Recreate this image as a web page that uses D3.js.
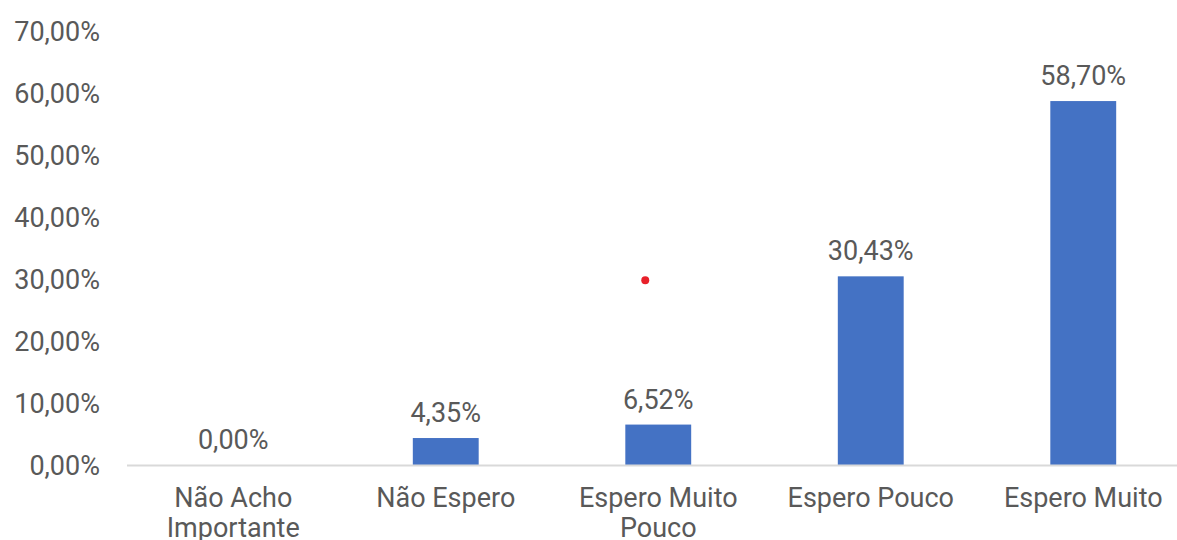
<!DOCTYPE html>
<html>
<head>
<meta charset="utf-8">
<script src="https://cdn.jsdelivr.net/npm/d3@7/dist/d3.min.js"></script>
<style>
  body { margin: 0; background: #fff; }
  text { font-family: Roboto, "Liberation Sans", Arial, sans-serif; fill: #595959; }
</style>
</head>
<body>
<div id="chart"></div>
<script>
// categories and values (percent)
var categories = ["Não Acho|Importante", "Não Espero", "Espero Muito|Pouco", "Espero Pouco", "Espero Muito"];
var values = [0.00, 4.35, 6.52, 30.43, 58.70];
var yTicks = [0, 10, 20, 30, 40, 50, 60, 70];

var width = 1177, height = 540
  , margin = { top: 31, right: 0, bottom: 75, left: 127 }
  , fontSize = "27px"
  , fmt = function(v) { return d3.format(".2f")(v).replace(".", ",") + "%"; }
;

var svg = d3.select("#chart").append("svg")
    .attr("width", width)
    .attr("height", height);

var x = d3.scaleBand()
    .domain(categories)
    .range([margin.left, margin.left + 5 * 212.5])
    .paddingInner(0.69)
    .paddingOuter(0.345);

var y = d3.scaleLinear()
    .domain([0, 70])
    .range([height - margin.bottom, margin.top]);

// y axis labels (no line, no ticks)
svg.append("g")
  .selectAll("text")
  .data(yTicks)
  .enter().append("text")
    .attr("x", 100)
    .attr("y", function(d) { return y(d); })
    .attr("dy", "0.36em")
    .attr("text-anchor", "end")
    .style("font-size", fontSize)
    .text(fmt);

// bars
svg.append("g")
  .selectAll("rect")
  .data(values)
  .enter().append("rect")
    .attr("x", function(d, i) { return x(categories[i]); })
    .attr("y", function(d) { return y(d); })
    .attr("width", x.bandwidth())
    .attr("height", function(d) { return y(0) - y(d); })
    .attr("fill", "#4472C4");

// baseline
svg.append("line")
    .attr("x1", margin.left)
    .attr("x2", width)
    .attr("y1", y(0) + 0.5)
    .attr("y2", y(0) + 0.5)
    .attr("stroke", "#D9D9D9")
    .attr("stroke-width", 2);

// data labels
svg.append("g")
  .selectAll("text")
  .data(values)
  .enter().append("text")
    .attr("x", function(d, i) { return x(categories[i]) + x.bandwidth() / 2; })
    .attr("y", function(d) { return y(d) - 16; })
    .attr("text-anchor", "middle")
    .style("font-size", fontSize)
    .text(fmt);

// category labels (wrapped at |)
var cat = svg.append("g")
  .selectAll("text")
  .data(categories)
  .enter().append("text")
    .attr("x", function(d) { return x(d) + x.bandwidth() / 2; })
    .attr("y", y(0) + 42)
    .attr("text-anchor", "middle")
    .style("font-size", fontSize);

cat.selectAll("tspan")
  .data(function(d) { return d.split("|").map(function(s) { return { s: s, c: d }; }); })
  .enter().append("tspan")
    .attr("x", function(d) { return x(d.c) + x.bandwidth() / 2; })
    .attr("dy", function(d, i) { return i ? 30 : 0; })
    .text(function(d) { return d.s; });

// stray red dot from the source image
svg.append("circle")
    .attr("cx", x(categories[2]) + x.bandwidth() / 2 - 13)
    .attr("cy", y(29.8))
    .attr("r", 4)
    .attr("fill", "#E8202A");
</script>
</body>
</html>
